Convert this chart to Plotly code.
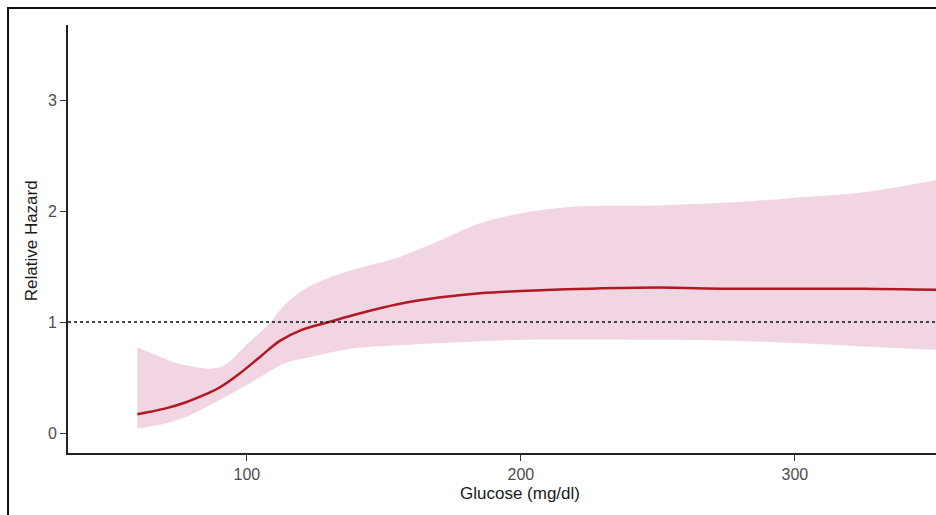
import plotly.graph_objects as go

# Estimated hazard curve (glucose mg/dl -> relative hazard)
hr_x = [60, 70, 77, 85, 90, 97, 105, 112, 120, 130, 140, 155, 170, 185, 200, 225, 250, 275, 300, 325, 352]
hr_y = [0.17, 0.22, 0.27, 0.35, 0.41, 0.53, 0.69, 0.83, 0.93, 1.00, 1.07, 1.16, 1.22, 1.26, 1.28, 1.30, 1.31, 1.30, 1.30, 1.30, 1.29]

# Upper confidence bound
up_x = [60, 67, 73, 80, 86, 90, 93, 100, 108, 114, 122, 130, 140, 155, 170, 185, 200, 220, 250, 285, 300, 325, 352]
up_y = [0.77, 0.70, 0.64, 0.60, 0.58, 0.59, 0.63, 0.80, 0.98, 1.16, 1.31, 1.40, 1.48, 1.58, 1.73, 1.89, 1.98, 2.04, 2.05, 2.09, 2.12, 2.17, 2.28]

# Lower confidence bound
lo_x = [60, 71, 80, 88, 97, 106, 114, 124, 138, 155, 180, 200, 250, 280, 300, 325, 352]
lo_y = [0.04, 0.09, 0.17, 0.27, 0.39, 0.52, 0.63, 0.69, 0.76, 0.79, 0.82, 0.84, 0.84, 0.83, 0.81, 0.78, 0.75]

x_ticks = [100, 200, 300]
y_ticks = [0, 1, 2, 3]
ref_line = 1

FONT = "Liberation Sans, Arial"
BAND = "rgb(242,213,227)"

fig = go.Figure()
fig.add_trace(go.Scatter(
    x=lo_x, y=lo_y, mode="lines",
    line=dict(width=0, color="rgba(0,0,0,0)", shape="spline", smoothing=0.9),
    hoverinfo="skip", showlegend=False))
fig.add_trace(go.Scatter(
    x=up_x, y=up_y, mode="lines", fill="tonexty", fillcolor=BAND,
    line=dict(width=0, color="rgba(0,0,0,0)", shape="spline", smoothing=0.9),
    hoverinfo="skip", showlegend=False))
fig.add_trace(go.Scatter(
    x=hr_x, y=hr_y, mode="lines",
    line=dict(color="rgb(176,24,34)", width=2.5, shape="spline", smoothing=1.0),
    showlegend=False))

fig.add_shape(type="line", xref="paper", x0=0, x1=1, yref="y", y0=ref_line, y1=ref_line,
              line=dict(color="#111", width=1.3, dash="3px,3px"))
# outer frame
fig.add_shape(type="rect", xref="paper", yref="paper", x0=-0.0691, x1=1.2, y0=-0.3, y1=1.0397,
              line=dict(color="#111", width=2), layer="above")

fig.add_annotation(text="Glucose (mg/dl)", xref="paper", yref="paper", x=0.5213, y=-0.0935,
                   showarrow=False, font=dict(family=FONT, size=17, color="#1a1a1a"),
                   xanchor="center", yanchor="middle")
fig.add_annotation(text="Relative Hazard", xref="paper", yref="paper", x=-0.0420, y=0.496,
                   textangle=-90, showarrow=False,
                   font=dict(family=FONT, size=17, color="#1a1a1a"),
                   xanchor="center", yanchor="middle")

fig.update_layout(
    width=936, height=515,
    margin=dict(l=68, r=0, t=25, b=62),
    paper_bgcolor="white", plot_bgcolor="white",
    font=dict(family=FONT, size=16, color="#4d4d4d"),
    xaxis=dict(range=[34.7, 351.5], tickvals=x_ticks, ticks="outside", ticklen=6,
               tickcolor="#333", showline=True, linecolor="#222", linewidth=1.6,
               showgrid=False, zeroline=False, tickfont=dict(size=16, color="#4d4d4d")),
    yaxis=dict(range=[-0.18, 3.676], tickvals=y_ticks, ticks="outside", ticklen=6,
               tickcolor="#333", showline=True, linecolor="#222", linewidth=1.6,
               showgrid=False, zeroline=False, tickfont=dict(size=16, color="#4d4d4d")),
)

fig.write_html("out.html", config={"displayModeBar": False},
               post_script="document.body.style.margin='0px';document.body.style.overflow='hidden';")
